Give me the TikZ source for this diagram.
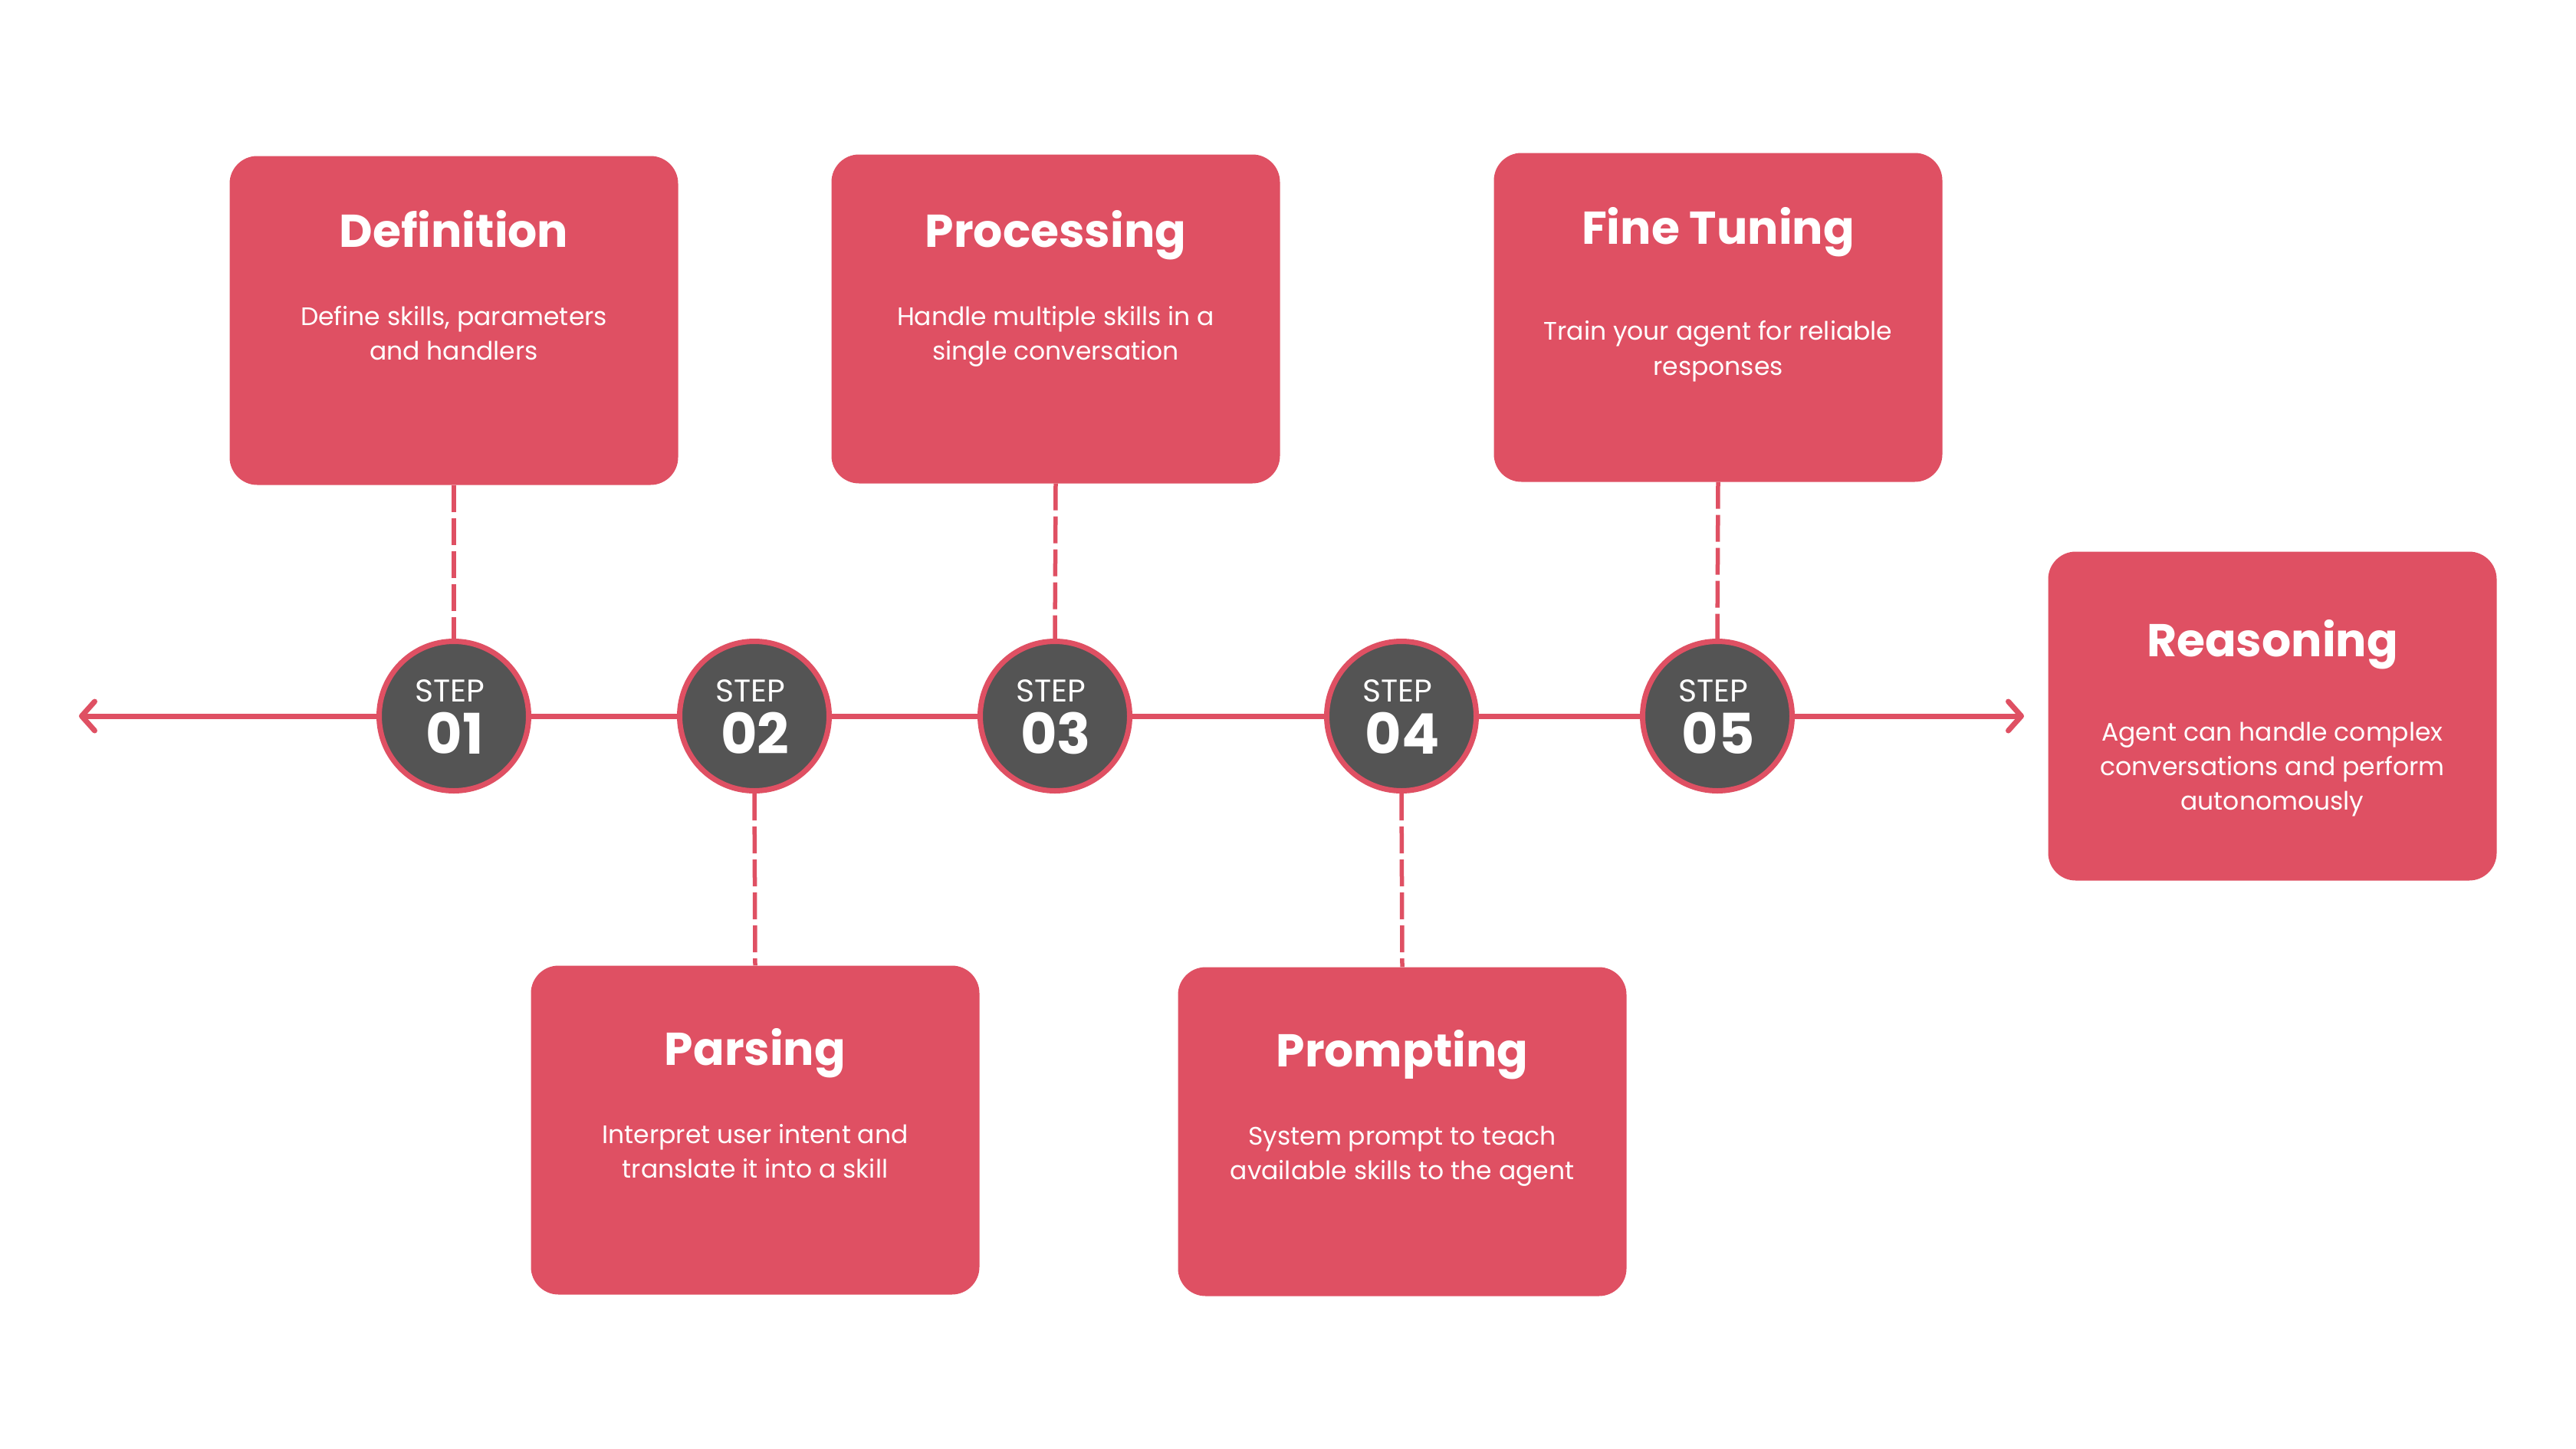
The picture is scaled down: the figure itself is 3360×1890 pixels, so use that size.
\documentclass[tikz,border=0pt]{standalone}
\usepackage{fontspec}
\setmainfont{Poppins}
\usetikzlibrary{arrows.meta}
\definecolor{rosered}{HTML}{DF5063}
\definecolor{darkgrey}{HTML}{545454}
\begin{document}
\begin{tikzpicture}[x=1pt,y=-1pt,
 card/.style={fill=rosered, draw=none, rounded corners=36pt, minimum width=585pt, minimum height=429pt, inner sep=0pt},
 cardtitle/.style={anchor=base, text=white, font=\fontsize{60}{64}\selectfont\bfseries, inner sep=0pt},
 cardtext/.style={anchor=base, text=white, font=\fontsize{33}{40}\selectfont, inner sep=0pt},
 stepcircle/.style={circle, fill=darkgrey, draw=rosered, line width=7pt, minimum size=195pt, inner sep=0pt},
 steplabel/.style={anchor=base, text=white, font=\fontsize{41}{44}\selectfont, inner sep=0pt},
 stepnum/.style={anchor=base, text=white, font=\fontsize{73}{76}\selectfont\bfseries, inner sep=0pt},
 timeline/.style={draw=rosered, line width=7pt, {Straight Barb[length=17pt,width=38pt,line cap=round,line join=round]}-{Straight Barb[length=17pt,width=38pt,line cap=round,line join=round]}},
 link/.style={draw=rosered, line width=5.5pt, dash pattern=on 35pt off 8pt}
]
\useasboundingbox[fill=white] (0,0) rectangle (3360,1890);

% timeline
\coordinate (tl) at (103,934);
\coordinate (tr) at (2640,934);
\draw[timeline] (tl) -- (tr);

% cards
\node[card] (def) at (592,418) {};
\node[card] (pro) at (1377,416) {};
\node[card] (fin) at (2241,414) {};
\node[card] (rea) at (2964,934) {};
\node[card] (par) at (985,1474) {};
\node[card] (prm) at (1829,1476) {};

% step circles
\node[stepcircle] (s1) at (592,934) {};
\node[stepcircle] (s2) at (984,934) {};
\node[stepcircle] (s3) at (1376,934) {};
\node[stepcircle] (s4) at (1828,934) {};
\node[stepcircle] (s5) at (2240,934) {};

% links
\draw[link] (def.south) -- (s1.north);
\draw[link] (s2.south) -- (par.north);
\draw[link] (pro.south) -- (s3.north);
\draw[link] (s4.south) -- (prm.north);
\draw[link] (fin.south) -- (s5.north);

% step labels
\node[steplabel] (l1) at (587,915) {STEP};
\node[stepnum]   (n1) at (593,983) {01};
\node[steplabel] (l2) at (979,915) {STEP};
\node[stepnum]   (n2) at (985,983) {02};
\node[steplabel] (l3) at (1371,915) {STEP};
\node[stepnum]   (n3) at (1377,983) {03};
\node[steplabel] (l4) at (1823,915) {STEP};
\node[stepnum]   (n4) at (1829,983) {04};
\node[steplabel] (l5) at (2235,915) {STEP};
\node[stepnum]   (n5) at (2241,983) {05};

% card texts
\node[cardtitle] (tdef) at (592,322) {Definition};
\node[cardtext] (bdef1) at (592,424) {Define skills, parameters};
\node[cardtext] (bdef2) at (592,469) {and handlers};

\node[cardtitle] (tpro) at (1377,322) {Processing};
\node[cardtext] (bpro1) at (1377,424) {Handle multiple skills in a};
\node[cardtext] (bpro2) at (1377,469) {single conversation};

\node[cardtitle] (tfin) at (2241,318) {Fine Tuning};
\node[cardtext] (bfin1) at (2241,443) {Train your agent for reliable};
\node[cardtext] (bfin2) at (2241,489) {responses};

\node[cardtitle] (trea) at (2964,856) {Reasoning};
\node[cardtext] (brea1) at (2964,966) {Agent can handle complex};
\node[cardtext] (brea2) at (2964,1011) {conversations and perform};
\node[cardtext] (brea3) at (2964,1056) {autonomously};

\node[cardtitle] (tpar) at (985,1389) {Parsing};
\node[cardtext] (bpar1) at (985,1491) {Interpret user intent and};
\node[cardtext] (bpar2) at (985,1536) {translate it into a skill};

\node[cardtitle] (tprm) at (1829,1391) {Prompting};
\node[cardtext] (bprm1) at (1829,1493) {System prompt to teach};
\node[cardtext] (bprm2) at (1829,1538) {available skills to the agent};
\end{tikzpicture}
\end{document}
